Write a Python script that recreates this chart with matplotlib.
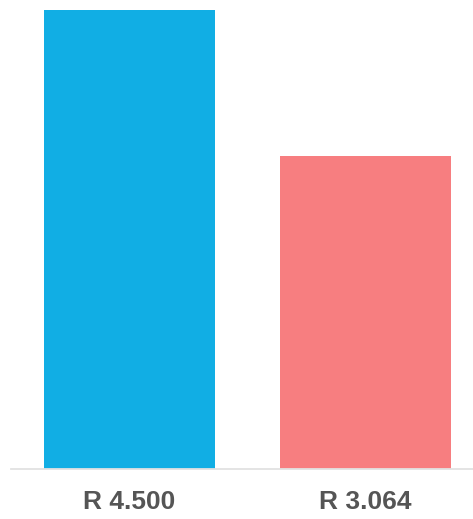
import matplotlib
matplotlib.use("Agg")
import matplotlib.pyplot as plt

categories = ["R 4.500", "R 3.064"]
values = [4500, 3064]
colors = ["#11AEE4", "#F77E80"]

W, H = 473, 519
fig = plt.figure(figsize=(W / 100, H / 100), dpi=100)
ax = fig.add_axes([11 / W, 50 / H, 1 - 11 / W, 1 - 50 / H])

x = list(range(len(values)))
ax.bar(x, values, width=0.725, color=colors, edgecolor="none", zorder=2)
ax.set_xlim(-0.502, 1.456)
ax.set_ylim(0, 4500 * 469 / 459)

for s in ["top", "right", "left"]:
    ax.spines[s].set_visible(False)
ax.spines["bottom"].set_color("#e2e2e2")
ax.spines["bottom"].set_linewidth(1.3)
ax.set_yticks([])
ax.set_xticks(x)
ax.set_xticklabels(categories, fontsize=19, fontweight="bold",
                   color="#555555", family="Liberation Sans")
ax.tick_params(axis="x", length=0, pad=15)

fig.savefig("out.png", dpi=100)
